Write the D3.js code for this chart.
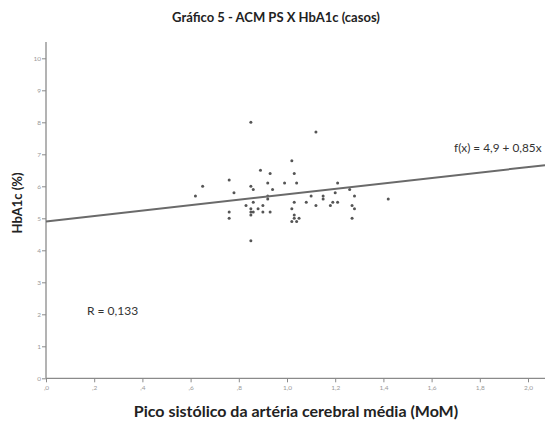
<!DOCTYPE html>
<html><head><meta charset="utf-8">
<script src="https://cdn.jsdelivr.net/npm/d3@7"></script>
<style>body{margin:0;background:#fff}svg{display:block}</style>
</head><body>
<script>
const xValues = [0.85,1.12,1.02,0.89,0.93,1.03,0.76,0.65,0.85,0.86,0.92,0.99,1.04,1.21,0.94,0.62,0.78,1.26,1.20,0.92,0.92,1.10,1.15,1.28,1.15,0.83,0.86,0.90,1.03,1.08,1.12,1.18,1.19,1.21,1.27,1.42,0.85,0.88,0.76,0.85,0.86,0.90,0.93,1.02,1.28,0.85,1.03,0.76,1.03,1.05,1.27,1.02,1.04,0.85];
const yValues = [8.0,7.7,6.8,6.5,6.4,6.4,6.2,6.0,6.0,5.9,6.1,6.1,6.1,6.1,5.9,5.7,5.8,5.9,5.8,5.7,5.6,5.7,5.7,5.7,5.6,5.4,5.5,5.4,5.5,5.5,5.4,5.4,5.5,5.5,5.4,5.6,5.3,5.3,5.2,5.2,5.2,5.2,5.2,5.3,5.3,5.1,5.1,5.0,5.0,5.0,5.0,4.9,4.9,4.3];
const xTicks = [0,0.2,0.4,0.6,0.8,1.0,1.2,1.4,1.6,1.8,2.0];
const xTickLabels = [",0",",2",",4",",6",",8","1,0","1,2","1,4","1,6","1,8","2,0"];
const yTicks = [0,1,2,3,4,5,6,7,8,9,10];
const fitIntercept = 4.9, fitSlope = 0.85;
const title = "Gráfico 5 - ACM PS X HbA1c (casos)";
const xTitle = "Pico sistólico da artéria cerebral média (MoM)";
const yTitle = "HbA1c (%)";
const eqText = "f(x) = 4,9 + 0,85x";
const rText = "R = 0,133";

const W = 545, H = 427;
const svg = d3.select("body").append("svg").attr("width", W).attr("height", H);
const x = d3.scaleLinear().domain([0, 2]).range([46, 528]);
const y = d3.scaleLinear().domain([0, 10]).range([378.3, 58.3]);
const font = "Lato, 'Open Sans', sans-serif";

svg.append("text").attr("x", 276).attr("y", 22).attr("text-anchor", "middle")
  .attr("font-family", font).attr("font-weight", "bold").attr("font-size", 13).attr("fill", "#222").text(title);

// axes lines
svg.append("line").attr("x1", 46).attr("x2", 46).attr("y1", 42).attr("y2", 378.3).attr("stroke", "#8a8a8a").attr("stroke-width", 1.3);
svg.append("line").attr("x1", 46).attr("x2", 545).attr("y1", 378.3).attr("y2", 378.3).attr("stroke", "#8a8a8a").attr("stroke-width", 1.3);

const yAxis = svg.append("g").attr("transform", "translate(46,0)")
  .call(d3.axisLeft(y).tickValues(yTicks).tickSize(4).tickFormat(d => d));
yAxis.select(".domain").remove();
yAxis.selectAll("line").attr("stroke", "#8a8a8a");
yAxis.selectAll("text").attr("font-family", font).attr("font-size", 6.5).attr("fill", "#999").attr("x", -5);

const xAxis = svg.append("g").attr("transform", "translate(0,378.3)")
  .call(d3.axisBottom(x).tickValues(xTicks).tickSize(4).tickFormat((d, i) => xTickLabels[i]));
xAxis.select(".domain").remove();
xAxis.selectAll("line").attr("stroke", "#8a8a8a");
xAxis.selectAll("text").attr("font-family", font).attr("font-size", 6.5).attr("fill", "#999").attr("y", 7);

// points
svg.append("g").selectAll("circle").data(xValues).join("circle")
  .attr("cx", d => x(d)).attr("cy", (d, i) => y(yValues[i])).attr("r", 1.5).attr("fill", "#555");

// fit line
const xEnd = x.invert(W);
svg.append("line").attr("x1", x(0)).attr("y1", y(fitIntercept))
  .attr("x2", x(xEnd)).attr("y2", y(fitIntercept + fitSlope * xEnd))
  .attr("stroke", "#6a6a6a").attr("stroke-width", 2);

svg.append("text").attr("x", 454).attr("y", 152).attr("font-family", font).attr("font-size", 11.8).attr("fill", "#333").text(eqText);
svg.append("text").attr("x", 87).attr("y", 315).attr("font-family", font).attr("font-size", 12).attr("fill", "#333").text(rText);

svg.append("text").attr("transform", "translate(22,203) rotate(-90)").attr("text-anchor", "middle")
  .attr("font-family", font).attr("font-weight", "bold").attr("font-size", 13).attr("fill", "#222").text(yTitle);
svg.append("text").attr("x", 296).attr("y", 417).attr("text-anchor", "middle")
  .attr("font-family", font).attr("font-weight", "bold").attr("font-size", 16).attr("fill", "#222").text(xTitle);
</script>
</body></html>
